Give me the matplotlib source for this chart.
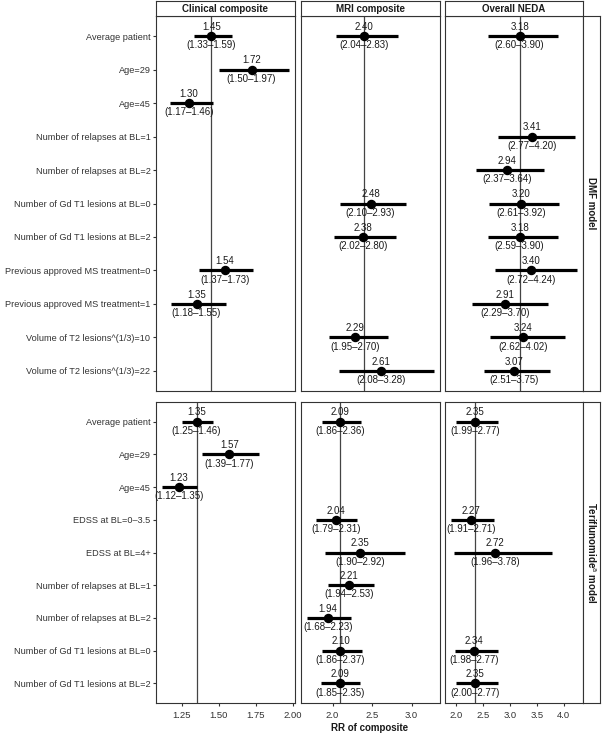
import numpy as np
import matplotlib.pyplot as plt

plt.rcParams['font.family'] = ['Liberation Sans', 'DejaVu Sans']

nan = np.nan

# ---- data ----
columns = ['Clinical composite', 'MRI composite', 'Overall NEDA']
models = ['DMF model', r'Teriflunomide$^{\mathrm{a}}$ model']

dmf_labels = ['Average patient', 'Age=29', 'Age=45',
              'Number of relapses at BL=1', 'Number of relapses at BL=2',
              'Number of Gd T1 lesions at BL=0', 'Number of Gd T1 lesions at BL=2',
              'Previous approved MS treatment=0', 'Previous approved MS treatment=1',
              'Volume of T2 lesions^(1/3)=10', 'Volume of T2 lesions^(1/3)=22']
dmf_clin_est = [1.45, 1.72, 1.30, nan, nan, nan, nan, 1.54, 1.35, nan, nan]
dmf_clin_lo = [1.33, 1.50, 1.17, nan, nan, nan, nan, 1.37, 1.18, nan, nan]
dmf_clin_hi = [1.59, 1.97, 1.46, nan, nan, nan, nan, 1.73, 1.55, nan, nan]
dmf_mri_est = [2.40, nan, nan, nan, nan, 2.48, 2.38, nan, nan, 2.29, 2.61]
dmf_mri_lo = [2.04, nan, nan, nan, nan, 2.10, 2.02, nan, nan, 1.95, 2.08]
dmf_mri_hi = [2.83, nan, nan, nan, nan, 2.93, 2.80, nan, nan, 2.70, 3.28]
dmf_neda_est = [3.18, nan, nan, 3.41, 2.94, 3.20, 3.18, 3.40, 2.91, 3.24, 3.07]
dmf_neda_lo = [2.60, nan, nan, 2.77, 2.37, 2.61, 2.59, 2.72, 2.29, 2.62, 2.51]
dmf_neda_hi = [3.90, nan, nan, 4.20, 3.64, 3.92, 3.90, 4.24, 3.70, 4.02, 3.75]

teri_labels = ['Average patient', 'Age=29', 'Age=45',
               'EDSS at BL=0\u20133.5', 'EDSS at BL=4+',
               'Number of relapses at BL=1', 'Number of relapses at BL=2',
               'Number of Gd T1 lesions at BL=0', 'Number of Gd T1 lesions at BL=2']
teri_clin_est = [1.35, 1.57, 1.23, nan, nan, nan, nan, nan, nan]
teri_clin_lo = [1.25, 1.39, 1.12, nan, nan, nan, nan, nan, nan]
teri_clin_hi = [1.46, 1.77, 1.35, nan, nan, nan, nan, nan, nan]
teri_mri_est = [2.09, nan, nan, 2.04, 2.35, 2.21, 1.94, 2.10, 2.09]
teri_mri_lo = [1.86, nan, nan, 1.79, 1.90, 1.94, 1.68, 1.86, 1.85]
teri_mri_hi = [2.36, nan, nan, 2.31, 2.92, 2.53, 2.23, 2.37, 2.35]
teri_neda_est = [2.35, nan, nan, 2.27, 2.72, nan, nan, 2.34, 2.35]
teri_neda_lo = [1.99, nan, nan, 1.91, 1.96, nan, nan, 1.98, 2.00]
teri_neda_hi = [2.77, nan, nan, 2.71, 3.78, nan, nan, 2.77, 2.77]

x_ticks = [[1.25, 1.50, 1.75, 2.00], [2.0, 2.5, 3.0], [2.0, 2.5, 3.0, 3.5, 4.0]]
x_fmt = ['{:.2f}', '{:.1f}', '{:.1f}']

panels = [
    [(dmf_clin_est, dmf_clin_lo, dmf_clin_hi),
     (dmf_mri_est, dmf_mri_lo, dmf_mri_hi),
     (dmf_neda_est, dmf_neda_lo, dmf_neda_hi)],
    [(teri_clin_est, teri_clin_lo, teri_clin_hi),
     (teri_mri_est, teri_mri_lo, teri_mri_hi),
     (teri_neda_est, teri_neda_lo, teri_neda_hi)],
]
row_labels = [dmf_labels, teri_labels]

# ---- layout (pixels) ----
W, H = 602, 735
fig = plt.figure(figsize=(W / 100, H / 100), dpi=100)


def px_axes(x0, y0, x1, y1):
    return fig.add_axes([x0 / W, 1 - y1 / H, (x1 - x0) / W, (y1 - y0) / H])


col_x = [(156, 295), (301, 440), (445, 583)]
row_y = [(16, 391), (402, 703)]
strip_top = (1, 16)
strip_right = (583, 600)
edge = '#333333'
txt = '#1a1a1a'

# shared x limits per column (ggplot-style 5% expansion)
xlims = []
for c in range(3):
    lo = np.nanmin([np.nanmin(panels[r][c][1]) for r in range(2)])
    hi = np.nanmax([np.nanmax(panels[r][c][2]) for r in range(2)])
    pad = (hi - lo) * 0.05
    xlims.append((lo - pad, hi + pad))

for r in range(2):
    labels = row_labels[r]
    n = len(labels)
    for c in range(3):
        est, lo, hi = panels[r][c]
        ax = px_axes(col_x[c][0], row_y[r][0], col_x[c][1], row_y[r][1])
        ax.set_xlim(*xlims[c])
        ax.set_ylim(n + 0.6, 0.4)
        ax.axvline(est[0], color='#444444', lw=0.9, zorder=1)
        for i in range(n):
            if np.isnan(est[i]):
                continue
            y = i + 1
            ax.plot([lo[i], hi[i]], [y, y], color='black', lw=2.3,
                    solid_capstyle='butt', zorder=2)
            ax.plot(est[i], y, 'o', color='black', ms=5.8, zorder=3)
            ax.annotate('{:.2f}'.format(est[i]), (est[i], y), xytext=(0, 6.6),
                        textcoords='offset points', ha='center', va='center',
                        fontsize=7, color=txt)
            ax.annotate('({:.2f}\u2013{:.2f})'.format(lo[i], hi[i]), (est[i], y),
                        xytext=(0, -6.6), textcoords='offset points',
                        ha='center', va='center', fontsize=7, color=txt)
        for s in ax.spines.values():
            s.set_color(edge)
            s.set_linewidth(0.8)
        ax.set_yticks(range(1, n + 1))
        if c == 0:
            ax.set_yticklabels(labels, fontsize=6.6, color='#333333')
            ax.tick_params(axis='y', length=2, color=edge, pad=2)
        else:
            ax.tick_params(axis='y', length=0, labelleft=False)
        ax.set_xticks(x_ticks[c])
        if r == 1:
            ax.set_xticklabels([x_fmt[c].format(v) for v in x_ticks[c]],
                               fontsize=6.8, color='#333333')
            ax.tick_params(axis='x', length=2.5, color=edge, pad=3)
        else:
            ax.tick_params(axis='x', length=0, labelbottom=False)

        if r == 0:
            st = px_axes(col_x[c][0], strip_top[0], col_x[c][1], strip_top[1])
            st.set_xticks([])
            st.set_yticks([])
            for s in st.spines.values():
                s.set_color(edge)
                s.set_linewidth(0.8)
            st.text(0.5, 0.5, columns[c], ha='center', va='center',
                    fontsize=7, fontweight='bold', color=txt,
                    transform=st.transAxes)

    sr = px_axes(strip_right[0], row_y[r][0], strip_right[1], row_y[r][1])
    sr.set_xticks([])
    sr.set_yticks([])
    for s in sr.spines.values():
        s.set_color(edge)
        s.set_linewidth(0.8)
    sr.text(0.5, 0.5, models[r], ha='center', va='center', rotation=-90,
            fontsize=7, fontweight='bold', color=txt, transform=sr.transAxes)

fig.text(((col_x[0][0] + col_x[2][1]) / 2) / W, 1 - 728 / H, 'RR of composite',
         ha='center', va='center', fontsize=7, fontweight='bold', color=txt)

fig.savefig('out.png', dpi=100)
